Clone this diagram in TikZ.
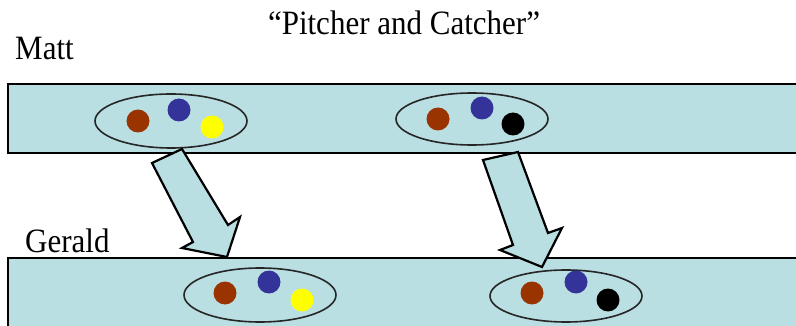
\documentclass[tikz,border=0pt]{standalone}
\usepackage{fontspec}
\usepackage{graphicx}
\setmainfont{Liberation Serif}
\definecolor{bandc}{RGB}{185,223,226}
\definecolor{brownc}{RGB}{153,51,0}
\definecolor{bluec}{RGB}{51,51,153}
\definecolor{yellowc}{RGB}{255,255,0}
\newcommand{\tallt}[1]{\scalebox{1}[1.1]{#1}}
\begin{document}
\begin{tikzpicture}[x=1pt,y=-1pt,
  band/.style={fill=bandc,draw=black,line width=2pt},
  group/.style={draw=black!85,line width=1.6pt},
  dot/.style={circle,minimum width=23pt,minimum height=23pt,inner sep=0pt},
  bigarrow/.style={fill=bandc,draw=black,line width=2.2pt,line join=miter},
  lbl/.style={font=\fontsize{31}{31}\selectfont,anchor=base west,inner sep=0pt}]
\useasboundingbox (0,0) rectangle (796,326);
% bands
\path[band] (8,84) rectangle (810,153);
\path[band] (8,258) rectangle (810,340);
% texts
\node[lbl,anchor=base] (title) at (404,35) {\tallt{“Pitcher and Catcher”}};
\node[lbl] (matt) at (15,60) {\tallt{Matt}};
\node[lbl] (gerald) at (25,252) {\tallt{Gerald}};
% top groups
\draw[group] (171,121) ellipse [x radius=76, y radius=27];
\node[dot,fill=brownc] (b1) at (138,121) {};
\node[dot,fill=bluec] (u1) at (179,110) {};
\node[dot,fill=yellowc] (y1) at (212,127) {};
\draw[group] (472,119) ellipse [x radius=76, y radius=26];
\node[dot,fill=brownc] (b2) at (438,119) {};
\node[dot,fill=bluec] (u2) at (482,108) {};
\node[dot,fill=black] (k2) at (513,124) {};
% arrows
\draw[bigarrow] (152,163) -- (182,149) -- (228,225) -- (240,217) -- (227,257)
  -- (182,248) -- (193,242) -- cycle;
\draw[bigarrow] (483,160) -- (518,152) -- (548,233) -- (562,228) -- (542,267)
  -- (500,250) -- (513,245) -- cycle;
% bottom groups
\draw[group] (260,295) ellipse [x radius=76, y radius=27];
\node[dot,fill=brownc] (b3) at (225,293) {};
\node[dot,fill=bluec] (u3) at (269,282) {};
\node[dot,fill=yellowc] (y3) at (302,300) {};
\draw[group] (566,296) ellipse [x radius=76, y radius=26];
\node[dot,fill=brownc] (b4) at (532,293) {};
\node[dot,fill=bluec] (u4) at (576,282) {};
\node[dot,fill=black] (k4) at (608,300) {};
\end{tikzpicture}
\end{document}
